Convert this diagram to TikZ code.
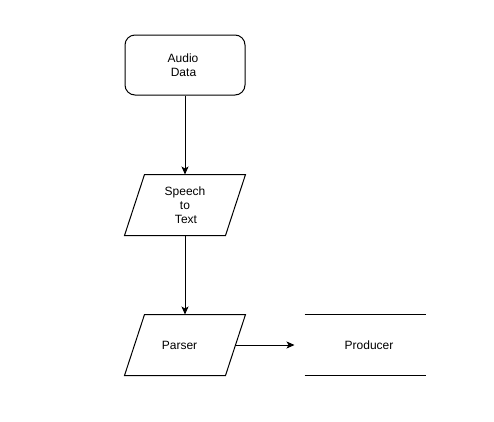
\documentclass[tikz,border=0pt]{standalone}
\usepackage{fontspec}
\setmainfont{Liberation Sans}
\usetikzlibrary{arrows.meta}
\begin{document}
\begin{tikzpicture}[x=1pt,y=-1pt,line width=1pt,
  lbl/.style={font=\fontsize{12}{14}\selectfont,align=center,inner sep=0pt},
  box/.style={draw,rounded corners=10pt,minimum width=120pt,minimum height=60pt,lbl},
  slot/.style={minimum width=120pt,minimum height=60pt,lbl},
  flow/.style={-{Stealth[length=8pt,width=7pt,inset=2pt]}}]
\useasboundingbox (0,0) rectangle (494,421);
\node[box] (audio) at (185,65) {Audio\hspace*{4pt}\\Data\hspace*{3pt}};
\node[slot] (speech) at (185,205) {Speech\\to\hspace*{14pt}\\\hspace*{2pt}Text};
\node[slot] (parser) at (185,345) {Parser\hspace*{11pt}};
\node[slot] (producer) at (365,345) {\hspace*{8pt}Producer};
\draw ([xshift=20pt]speech.north west) -- (speech.north east) -- ([xshift=-20pt]speech.south east) -- (speech.south west) -- cycle;
\draw ([xshift=20pt]parser.north west) -- (parser.north east) -- ([xshift=-20pt]parser.south east) -- (parser.south west) -- cycle;
\draw (producer.north west) -- (producer.north east);
\draw (producer.south west) -- (producer.south east);
\coordinate (pout) at ([xshift=-10pt]parser.east);
\coordinate (pin) at ([xshift=-10pt]producer.west);
\draw[flow] (audio.south) -- (speech.north);
\draw[flow] (speech.south) -- (parser.north);
\draw[flow] (pout) -- (pin);
\end{tikzpicture}
\end{document}
